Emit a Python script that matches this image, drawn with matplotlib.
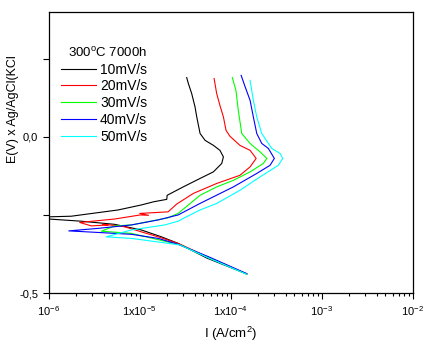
import matplotlib
matplotlib.use("Agg")
import matplotlib.pyplot as plt
from matplotlib.ticker import FixedLocator, FixedFormatter, LogLocator, NullFormatter

plt.rcParams["font.family"] = ["Liberation Sans", "DejaVu Sans"]
plt.rcParams["mathtext.default"] = "regular"

# Potentiodynamic polarisation curves, sweep from cathodic end through Ecorr to anodic end
# current density (A/cm2) and potential (V vs Ag/AgCl)
i_10 = [1.50e-4, 5.45e-5, 2.64e-5, 1.73e-5, 1.04e-5, 5.3e-6, 2.28e-6, 1.0e-6, 6.0e-7,
        1.0e-6, 1.77e-6, 5.78e-6, 1.04e-5, 1.41e-5, 1.98e-5, 2.0e-5, 3.01e-5, 4.6e-5,
        6.44e-5, 7.96e-5, 8.3e-5, 7.6e-5, 6.44e-5, 5.22e-5, 4.6e-5, 4.23e-5, 4.05e-5,
        3.72e-5, 3.42e-5, 3.28e-5]
e_10 = [-0.439, -0.388, -0.341, -0.320, -0.298, -0.280, -0.270, -0.263, -0.260,
        -0.256, -0.254, -0.234, -0.218, -0.208, -0.200, -0.187, -0.160, -0.133,
        -0.112, -0.085, -0.064, -0.043, -0.027, -0.011, 0.011, 0.064, 0.096,
        0.139, 0.171, 0.190]

i_20 = [1.50e-4, 5.93e-5, 2.64e-5, 1.59e-5, 1.04e-5, 6.84e-6, 5.6e-6, 3.9e-6, 4.49e-6,
        2.94e-6, 2.19e-6, 5.3e-6, 1.01e-5, 1.25e-5, 1.0e-5, 1.35e-5, 2.05e-5, 2.55e-5,
        3.88e-5, 7.02e-5, 1.26e-4, 1.63e-4, 1.90e-4, 1.63e-4, 1.26e-4, 9.8e-5, 8.87e-5,
        8.3e-5, 7.6e-5, 7.0e-5, 6.56e-5]
e_20 = [-0.439, -0.388, -0.341, -0.320, -0.304, -0.288, -0.284, -0.280, -0.282,
        -0.285, -0.274, -0.263, -0.250, -0.251, -0.245, -0.243, -0.240, -0.215,
        -0.181, -0.149, -0.123, -0.096, -0.069, -0.043, -0.027, 0.002, 0.021,
        0.064, 0.101, 0.139, 0.187]

i_30 = [1.50e-4, 5.93e-5, 2.64e-5, 8.09e-6, 3.79e-6, 5.3e-6, 8.09e-6, 2.05e-5, 2.64e-5,
        4.6e-5, 7.02e-5, 1.07e-4, 1.63e-4, 2.28e-4, 2.49e-4, 2.10e-4, 1.63e-4, 1.32e-4,
        1.21e-4, 1.14e-4, 1.04e-4]
e_30 = [-0.440, -0.388, -0.344, -0.309, -0.302, -0.285, -0.282, -0.259, -0.245,
        -0.187, -0.160, -0.139, -0.112, -0.085, -0.069, -0.048, -0.021, 0.011,
        0.085, 0.149, 0.190]

i_40 = [1.50e-4, 5.93e-5, 2.64e-5, 1.59e-5, 8.09e-6, 3.48e-6, 1.66e-6, 3.48e-6, 8.09e-6,
        1.59e-5, 2.64e-5, 4.6e-5, 1.07e-4, 1.93e-4, 2.70e-4, 3.01e-4, 2.59e-4, 2.19e-4,
        1.93e-4, 1.77e-4, 1.63e-4, 1.44e-4, 1.30e-4]
e_40 = [-0.438, -0.386, -0.344, -0.325, -0.312, -0.306, -0.301, -0.293, -0.282,
        -0.266, -0.250, -0.213, -0.160, -0.117, -0.091, -0.069, -0.037, -0.021,
        0.011, 0.064, 0.117, 0.160, 0.197]

i_50 = [1.50e-4, 5.93e-5, 2.77e-5, 8.09e-6, 4.29e-6, 8.09e-6, 1.88e-5, 2.64e-5, 3.01e-5,
        4.6e-5, 7.02e-5, 1.26e-4, 2.10e-4, 3.33e-4, 3.72e-4, 3.48e-4, 2.82e-4, 2.19e-4,
        1.93e-4, 1.77e-4, 1.63e-4]
e_50 = [-0.440, -0.390, -0.346, -0.325, -0.320, -0.298, -0.282, -0.270, -0.261,
        -0.234, -0.213, -0.171, -0.128, -0.091, -0.069, -0.053, -0.037, 0.011,
        0.064, 0.117, 0.181]

series = [
    ("10mV/s", i_10, e_10, "black"),
    ("20mV/s", i_20, e_20, "#ff0000"),
    ("30mV/s", i_30, e_30, "#00ff00"),
    ("40mV/s", i_40, e_40, "#0000ff"),
    ("50mV/s", i_50, e_50, "#00ffff"),
]

x_ticks = [1e-6, 1e-5, 1e-4, 1e-3, 1e-2]
x_labels = ["$10^{-6}$", "1x$10^{-5}$", "1x$10^{-4}$", "$10^{-3}$", "$10^{-2}$"]
y_ticks = [-0.5, -0.25, 0.0, 0.25]
y_labels = ["-0,5", "", "0,0", ""]

fig = plt.figure(figsize=(4.35, 3.64), dpi=100)
ax = fig.add_axes([0.112, 0.195, 0.837, 0.772])

for label, cur, pot, color in series:
    ax.plot(cur, pot, color=color, lw=0.8, label=label)

ax.set_xscale("log")
ax.set_xlim(1e-6, 1e-2)
ax.set_ylim(-0.5, 0.4)

ax.xaxis.set_major_locator(FixedLocator(x_ticks))
ax.xaxis.set_major_formatter(FixedFormatter(x_labels))
ax.xaxis.set_minor_locator(LogLocator(base=10, subs=range(2, 10)))
ax.xaxis.set_minor_formatter(NullFormatter())
ax.yaxis.set_major_locator(FixedLocator(y_ticks))
ax.yaxis.set_major_formatter(FixedFormatter(y_labels))

ax.tick_params(axis="both", which="major", direction="out", length=4, width=0.8,
               labelsize=8, top=False, right=False)
ax.tick_params(axis="x", which="minor", direction="out", length=2.5, width=0.8, top=False)
ax.tick_params(axis="x", which="major", pad=4)
for sp in ax.spines.values():
    sp.set_linewidth(0.9)

ax.set_xlabel("I (A/cm$^2$)", fontsize=9.5, labelpad=5)
fig.text(0.03, 0.70, "E(V) x Ag/AgCl(KCl", rotation=90, fontsize=9,
         ha="center", va="center")

leg = ax.legend(title="300$^{o}$C 7000h", loc="upper left",
                bbox_to_anchor=(0.034, 0.88), frameon=False, fontsize=10,
                title_fontsize=9.5, handlelength=2.5, handletextpad=0.3,
                labelspacing=0.2, borderpad=0, borderaxespad=0)
leg._legend_box.align = "right"

fig.savefig("out.png", dpi=100)
